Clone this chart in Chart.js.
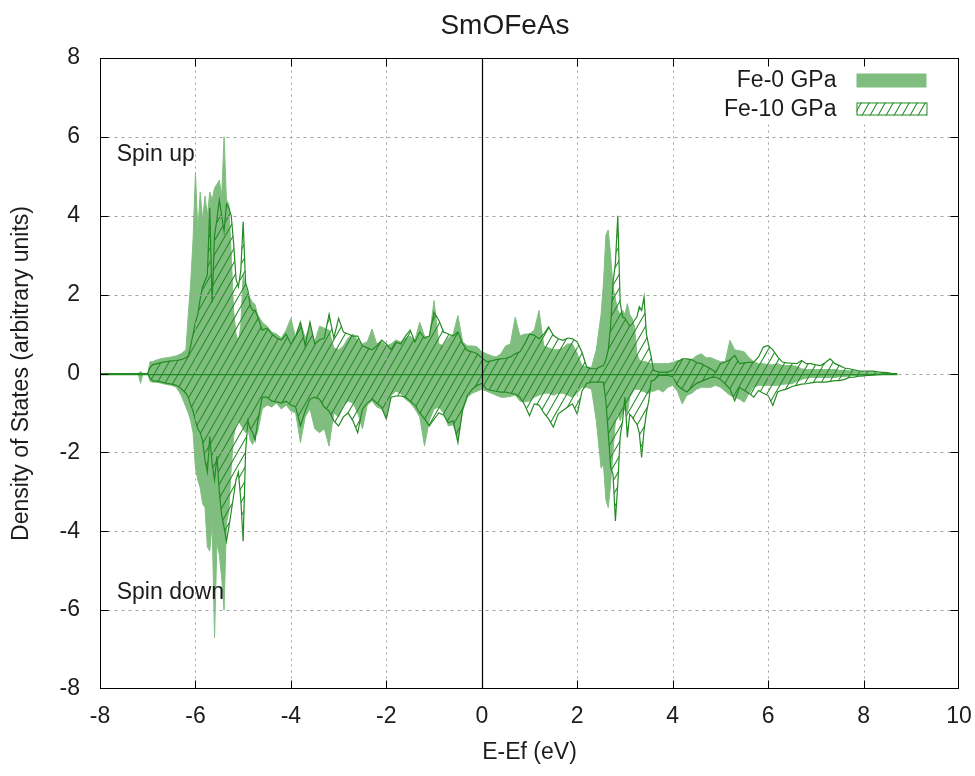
<!DOCTYPE html>
<html>
<head>
<meta charset="utf-8">
<title>SmOFeAs DOS</title>
<script src="https://cdn.jsdelivr.net/npm/chart.js@4.4.1/dist/chart.umd.min.js"></script>
<style>
  html, body { margin: 0; padding: 0; background: #fff; }
  canvas { display: block; }
</style>
</head>
<body>
<canvas id="dos" width="975" height="776"></canvas>
<script>
// E - Ef grid (eV); finer spacing around the two sharp Fe peaks
const energies = [
  -8.0, -7.25, -7.2, -7.15, -7.1, -7.0, -6.95, -6.9, -6.8, -6.7,
  -6.6, -6.5, -6.4, -6.3, -6.2, -6.15, -6.1, -6.05, -6.0, -5.95,
  -5.9, -5.85, -5.8, -5.75, -5.7, -5.65, -5.6, -5.55, -5.5, -5.45,
  -5.4, -5.35, -5.3, -5.25, -5.2, -5.15, -5.1, -5.05, -5.0, -4.95,
  -4.9, -4.85, -4.8, -4.75, -4.7, -4.6, -4.5, -4.4, -4.3, -4.2,
  -4.1, -4.0, -3.9, -3.8, -3.7, -3.6, -3.5, -3.4, -3.3, -3.2,
  -3.1, -3.0, -2.9, -2.8, -2.7, -2.6, -2.5, -2.4, -2.3, -2.2,
  -2.1, -2.0, -1.9, -1.8, -1.7, -1.6, -1.5, -1.4, -1.3, -1.2,
  -1.1, -1.0, -0.9, -0.8, -0.7, -0.6, -0.5, -0.4, -0.3, -0.2,
  -0.1, 0.0, 0.1, 0.2, 0.3, 0.4, 0.5, 0.6, 0.7, 0.8,
  0.9, 1.0, 1.1, 1.2, 1.3, 1.4, 1.5, 1.6, 1.7, 1.8,
  1.9, 2.0, 2.1, 2.2, 2.3, 2.4, 2.5, 2.55, 2.6, 2.65,
  2.7, 2.75, 2.8, 2.85, 2.9, 2.95, 3.0, 3.05, 3.1, 3.15,
  3.2, 3.25, 3.3, 3.35, 3.4, 3.45, 3.5, 3.55, 3.6, 3.7,
  3.8, 3.9, 4.0, 4.1, 4.2, 4.3, 4.4, 4.5, 4.6, 4.7,
  4.8, 4.9, 5.0, 5.1, 5.2, 5.3, 5.4, 5.5, 5.6, 5.7,
  5.8, 5.9, 6.0, 6.1, 6.2, 6.3, 6.4, 6.5, 6.6, 6.7,
  6.8, 6.9, 7.0, 7.1, 7.2, 7.3, 7.4, 7.5, 7.6, 7.7,
  7.8, 7.9, 8.0, 8.1, 8.2, 8.3, 8.4, 8.5, 8.6, 8.7
];

// Fe d-DOS at 0 GPa
const fe0Up = [
  0, 0, 0, 0.05, 0, 0, 0.3, 0.3, 0.35, 0.38,
  0.4, 0.42, 0.45, 0.5, 0.6, 1.5, 2.3, 3.4, 5.1, 3.6,
  4.6, 3.9, 4.5, 4.0, 4.6, 4.4, 4.7, 4.8, 4.9, 4.5,
  6.0, 4.4, 4.3, 3.0, 1.6, 1.0, 0.8, 1.2, 2.5, 2.2,
  2.0, 1.9, 1.8, 1.75, 1.5, 1.3, 1.2, 1.05, 1.0, 0.9,
  1.1, 1.4, 0.9, 1.3, 0.9, 1.2, 0.8, 1.2, 1.15, 1.1,
  0.65, 0.6, 0.7, 0.9, 1.0, 0.85, 0.75, 0.8, 1.13, 0.75,
  0.8, 0.7, 0.75, 0.85, 0.8, 0.9, 0.95, 0.85, 1.3, 0.95,
  0.9, 1.85, 0.75, 0.7, 0.9, 1.0, 1.47, 0.8, 0.7, 0.7,
  0.68, 0.55, 0.5, 0.45, 0.42, 0.5, 0.7, 0.75, 1.43, 0.95,
  1.0, 1.0, 1.1, 1.6, 0.7, 0.65, 0.6, 0.6, 0.65, 0.75,
  0.75, 0.5, 0.2, 0.16, 0.16, 0.6, 1.5, 2.3, 3.5, 3.64,
  3.0, 2.2, 1.9, 1.6, 1.5, 1.6, 1.5, 1.77, 1.5, 1.4,
  1.2, 0.5, 0.35, 0.3, 0.3, 0.3, 0.25, 0.25, 0.25, 0.25,
  0.25, 0.25, 0.28, 0.33, 0.33, 0.35, 0.35, 0.45, 0.5, 0.4,
  0.4, 0.35, 0.3, 0.3, 0.84, 0.6, 0.58, 0.55, 0.4, 0.3,
  0.25, 0.25, 0.22, 0.22, 0.25, 0.2, 0.2, 0.2, 0.18, 0.12,
  0.1, 0.1, 0.1, 0.1, 0.1, 0.1, 0.1, 0.08, 0.08, 0.07,
  0.06, 0.05, 0.04, 0.03, 0.02, 0.01, 0, 0, 0, 0
];
const fe0Down = [
  0, 0, 0, -0.25, 0, 0, -0.2, -0.22, -0.22, -0.25,
  -0.28, -0.3, -0.35, -0.55, -0.85, -1.0, -1.2, -1.5, -2.4, -2.7,
  -2.9, -3.3, -3.4, -4.4, -4.5, -3.8, -6.7, -4.3, -4.6, -5.2,
  -6.0, -3.8, -3.5, -2.4, -1.6, -1.3, -1.2, -1.3, -1.4, -1.5,
  -1.4, -1.7, -1.8, -1.6, -1.5, -0.9, -0.8, -0.85, -0.75, -0.9,
  -0.8, -0.95, -1.0, -1.75, -1.1, -0.9, -1.4, -1.5, -1.4, -1.84,
  -1.0, -1.1, -0.8, -0.7, -0.75, -1.0, -1.4, -0.8, -0.7, -0.85,
  -0.9, -1.1, -0.55, -0.45, -0.5, -0.65, -0.75, -0.9, -1.1, -1.84,
  -1.2, -0.9, -0.85, -1.0, -1.33, -1.3, -1.65, -0.95, -0.6, -0.5,
  -0.45, -0.4, -0.45, -0.5, -0.55, -0.6, -0.6, -0.58, -0.55, -0.7,
  -0.72, -0.7, -0.6, -0.55, -0.5, -0.5, -0.55, -0.5, -0.5, -0.55,
  -0.6, -0.5, -0.35, -0.35, -0.4, -1.2, -2.4, -2.3, -3.2, -3.4,
  -2.8, -2.0, -1.2, -1.0, -1.2, -1.0, -0.9, -1.0, -0.6, -0.5,
  -0.4, -0.4, -0.4, -0.45, -0.45, -0.5, -0.5, -0.45, -0.45, -0.4,
  -0.47, -0.35, -0.3, -0.45, -0.77, -0.55, -0.5, -0.4, -0.35, -0.35,
  -0.35, -0.3, -0.35, -0.45, -0.55, -0.6, -0.65, -0.73, -0.5, -0.35,
  -0.3, -0.3, -0.3, -0.3, -0.3, -0.28, -0.26, -0.26, -0.2, -0.15,
  -0.12, -0.1, -0.1, -0.1, -0.1, -0.1, -0.1, -0.08, -0.08, -0.06,
  -0.05, -0.05, -0.04, -0.03, -0.02, -0.01, 0, 0, 0, 0
];

// Fe d-DOS at 10 GPa
const fe10Up = [
  0, 0, 0, 0, 0, 0, 0.15, 0.22, 0.25, 0.28,
  0.3, 0.32, 0.33, 0.35, 0.4, 0.45, 0.7, 1.0, 1.3, 1.5,
  1.9, 2.2, 2.35, 2.5, 4.2, 1.8, 3.5, 3.9, 4.4, 4.0,
  3.6, 4.3, 4.2, 4.0, 3.3, 2.4, 2.2, 2.6, 3.85, 2.3,
  2.1, 1.7, 1.6, 1.6, 1.45, 1.1, 1.15, 1.0, 0.9, 0.85,
  1.0, 0.75, 0.95, 1.3, 0.7, 1.3, 0.75, 0.85, 0.9, 1.5,
  0.9, 1.4, 1.05, 1.0, 0.95, 0.95, 0.7, 0.65, 0.6, 0.7,
  0.85, 0.75, 0.6, 0.8, 0.75, 0.95, 1.1, 0.8, 1.05, 0.9,
  0.95, 1.55, 1.35, 1.05, 1.0, 0.95, 1.05, 0.75, 0.58, 0.55,
  0.5, 0.4, 0.3, 0.32, 0.35, 0.37, 0.38, 0.42, 0.5, 0.55,
  0.75, 1.0, 0.97, 0.88, 1.0, 1.18, 0.97, 0.88, 0.84, 0.9,
  0.88, 0.8, 0.54, 0.16, 0.12, 0.12, 0.18, 0.2, 0.35, 0.6,
  1.2, 2.3, 2.8, 4.0, 1.8, 1.43, 1.4, 1.3, 1.2, 1.25,
  1.35, 1.43, 1.69, 1.6, 1.94, 1.0, 0.7, 0.42, 0.08, 0.04,
  0.03, 0.04, 0.08, 0.29, 0.37, 0.37, 0.35, 0.28, 0.25, 0.18,
  0.12, 0.03, 0.25, 0.29, 0.35, 0.46, 0.25, 0.27, 0.28, 0.29,
  0.42, 0.67, 0.71, 0.6, 0.42, 0.29, 0.27, 0.26, 0.25, 0.33,
  0.25, 0.25, 0.22, 0.2, 0.28, 0.37, 0.25, 0.2, 0.14, 0.12,
  0.09, 0.07, 0.06, 0.06, 0.06, 0.04, 0.03, 0.02, 0, 0
];
const fe10Down = [
  0, 0, 0, 0, 0, 0, -0.12, -0.18, -0.2, -0.22,
  -0.25, -0.27, -0.3, -0.38, -0.5, -0.6, -0.8, -0.95, -1.2, -1.4,
  -1.5, -1.7, -2.2, -2.5, -1.6, -2.3, -2.7, -2.1, -3.0, -3.6,
  -3.9, -4.25, -3.9, -3.5, -3.1, -2.7, -2.5, -3.2, -4.25, -2.0,
  -1.2, -1.4, -1.5, -1.7, -1.25, -0.6, -0.6, -0.7, -0.72, -0.75,
  -0.7, -0.8, -0.85, -1.33, -0.95, -0.65, -0.6, -0.65, -0.85, -0.95,
  -1.2, -1.33, -1.1, -1.0, -1.2, -1.5, -0.9, -0.75, -0.65, -0.75,
  -0.85, -1.16, -0.6, -0.57, -0.57, -0.6, -0.7, -0.8, -1.0, -1.15,
  -1.33, -1.16, -1.0, -1.05, -1.25, -1.2, -1.75, -0.9, -0.55, -0.4,
  -0.3, -0.25, -0.4, -0.43, -0.45, -0.47, -0.47, -0.5, -0.52, -0.6,
  -0.8, -1.07, -0.77, -0.8, -1.0, -1.15, -1.36, -1.03, -0.94, -0.85,
  -0.77, -1.03, -0.45, -0.25, -0.22, -0.22, -0.22, -0.22, -0.69, -1.5,
  -2.38, -2.55, -3.74, -2.8, -1.6, -1.2, -0.6, -1.62, -1.03, -1.1,
  -1.2, -1.28, -1.5, -2.13, -1.45, -1.0, -0.69, -0.18, -0.18, -0.05,
  -0.05, -0.05, -0.08, -0.3, -0.4, -0.47, -0.35, -0.25, -0.2, -0.15,
  -0.1, -0.09, -0.15, -0.26, -0.39, -0.69, -0.35, -0.43, -0.5, -0.6,
  -0.43, -0.5, -0.56, -0.81, -0.47, -0.42, -0.39, -0.33, -0.3, -0.27,
  -0.26, -0.24, -0.22, -0.22, -0.22, -0.2, -0.18, -0.18, -0.15, -0.1,
  -0.09, -0.07, -0.06, -0.05, -0.04, -0.03, -0.02, -0.01, 0, 0
];

const xTicks = [-8, -6, -4, -2, 0, 2, 4, 6, 8, 10];
const yTicks = [-8, -6, -4, -2, 0, 2, 4, 6, 8];
const seriesNames = ['Fe-0 GPa', 'Fe-10 GPa'];

const FONT = "'Liberation Sans', Arial, sans-serif";
const TEXT = '#1c1c1c';
const LIGHT = 'rgb(128,190,128)';
const DARK = 'rgb(34,139,34)';

// diagonal "/" hatching used for the 10 GPa curves
function hatchPattern(color) {
  const w = 8, h = 14;
  const c = document.createElement('canvas');
  c.width = w; c.height = h;
  const g = c.getContext('2d');
  g.strokeStyle = color;
  g.lineWidth = 1.1;
  g.beginPath();
  for (let k = -1; k <= 1; k++) {
    g.moveTo(k * w - w, 2 * h);
    g.lineTo(k * w + 2 * w, -h);
  }
  g.stroke();
  return g.createPattern(c, 'repeat');
}
const HATCH = hatchPattern(DARK);

const pts = vals => energies.map((e, i) => ({ x: e, y: vals[i] }));

function solidSet(vals) {
  return {
    data: pts(vals), order: 2,
    borderColor: LIGHT, backgroundColor: LIGHT, borderWidth: 1,
    fill: 'origin', pointRadius: 0, tension: 0
  };
}
function hatchSet(vals) {
  return {
    data: pts(vals), order: 1,
    borderColor: DARK, backgroundColor: HATCH, borderWidth: 1.2,
    fill: 'origin', pointRadius: 0, tension: 0
  };
}

// grid, zero lines, key, labels and inward tick marks in gnuplot style
const gnuplotDecor = {
  id: 'gnuplotDecor',
  afterDatasetsDraw(chart) {
    const { ctx, chartArea: a, scales: { x, y } } = chart;
    const px = v => Math.round(x.getPixelForValue(v)) + 0.5;
    const py = v => Math.round(y.getPixelForValue(v)) + 0.5;
    const seg = (x1, y1, x2, y2) => { ctx.beginPath(); ctx.moveTo(x1, y1); ctx.lineTo(x2, y2); ctx.stroke(); };
    const L = Math.round(a.left) + 0.5, R = Math.round(a.right) - 0.5;
    const T = Math.round(a.top) + 0.5, B = Math.round(a.bottom) - 0.5;

    ctx.save();
    ctx.lineWidth = 1;
    ctx.strokeStyle = '#a3a3a3';
    ctx.setLineDash([2, 4]);
    xTicks.slice(1, -1).forEach(v => { if (v !== 0) seg(px(v), T, px(v), B); });
    ctx.setLineDash([3, 4]);
    yTicks.slice(1, -1).forEach(v => seg(L, py(v), R, py(v)));
    ctx.setLineDash([]);

    // baseline of the filled curves
    ctx.strokeStyle = DARK;
    ctx.lineWidth = 1.3;
    seg(L, py(0), px(energies[energies.length - 1]), py(0));

    // Fermi level
    ctx.strokeStyle = '#000';
    ctx.lineWidth = 1.2;
    seg(px(0), T, px(0), B);

    // key
    const kx = R - 102, row1 = T + 22, row2 = T + 51;
    ctx.fillStyle = '#fff';
    ctx.fillRect(R - 258, T + 3, 256, 62);
    ctx.font = '23px ' + FONT;
    ctx.fillStyle = TEXT;
    ctx.textAlign = 'right';
    ctx.textBaseline = 'middle';
    ctx.fillText(seriesNames[0], kx - 20, row1);
    ctx.fillText(seriesNames[1], kx - 20, row2);
    ctx.fillStyle = LIGHT;
    ctx.fillRect(kx, row1 - 7, 70, 14);
    ctx.fillStyle = HATCH;
    ctx.fillRect(kx, row2 - 7, 70, 13);
    ctx.strokeStyle = DARK;
    ctx.lineWidth = 1;
    ctx.strokeRect(kx + 0.5, row2 - 6.5, 70, 12);

    // spin channel labels
    ctx.fillStyle = TEXT;
    ctx.textAlign = 'left';
    ctx.fillText('Spin up', x.getPixelForValue(-7.65), y.getPixelForValue(5.55));
    ctx.fillText('Spin down', x.getPixelForValue(-7.65), y.getPixelForValue(-5.55));

    // title
    ctx.font = '28px ' + FONT;
    ctx.textAlign = 'center';
    ctx.fillText('SmOFeAs', 505, 26);

    // frame with ticks on all four sides
    ctx.strokeStyle = '#000';
    ctx.lineWidth = 1;
    ctx.strokeRect(L, T, R - L, B - T);
    xTicks.slice(1, -1).forEach(v => { seg(px(v), B, px(v), B - 8); seg(px(v), T, px(v), T + 8); });
    yTicks.slice(1, -1).forEach(v => { seg(L, py(v), L + 8, py(v)); seg(R, py(v), R - 8, py(v)); });
    ctx.restore();
  }
};

new Chart(document.getElementById('dos'), {
  type: 'line',
  data: {
    datasets: [
      hatchSet(fe10Up), hatchSet(fe10Down),
      solidSet(fe0Up), solidSet(fe0Down)
    ]
  },
  options: {
    responsive: false,
    animation: false,
    devicePixelRatio: 1,
    layout: { padding: { left: 0, right: 16, top: 58, bottom: 0 } },
    plugins: { legend: { display: false }, tooltip: { enabled: false }, title: { display: false } },
    scales: {
      x: {
        type: 'linear', min: -8, max: 10,
        afterFit: s => { s.height = 87; s.paddingLeft = 0; s.paddingRight = 0; },
        afterBuildTicks: s => { s.ticks = xTicks.map(v => ({ value: v })); },
        ticks: { font: { family: FONT, size: 23 }, color: TEXT, padding: 14, maxRotation: 0 },
        grid: { display: false, drawTicks: false },
        border: { display: false },
        title: { display: true, text: 'E-Ef (eV)', color: TEXT, font: { family: FONT, size: 23 }, padding: { top: 0, bottom: 10 } }
      },
      y: {
        type: 'linear', min: -8, max: 8,
        afterFit: s => { s.width = 100; s.paddingTop = 0; s.paddingBottom = 0; },
        afterBuildTicks: s => { s.ticks = yTicks.map(v => ({ value: v })); },
        ticks: { font: { family: FONT, size: 23 }, color: TEXT, padding: 20 },
        grid: { display: false, drawTicks: false },
        border: { display: false },
        title: { display: true, text: 'Density of States (arbitrary units)', color: TEXT, font: { family: FONT, size: 23 }, padding: { top: 8, bottom: 0 } }
      }
    }
  },
  plugins: [gnuplotDecor]
});
</script>
</body>
</html>
